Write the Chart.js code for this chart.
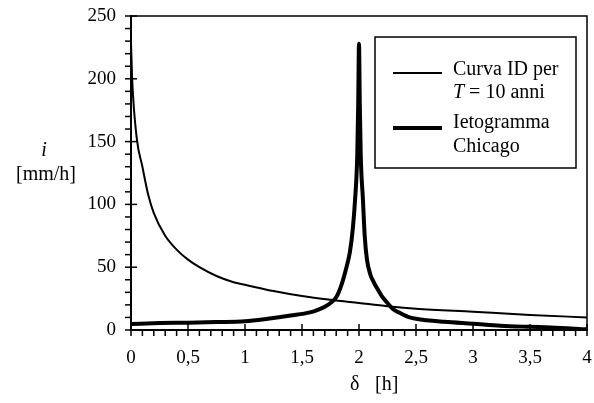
<!DOCTYPE html>
<html>
<head>
<meta charset="utf-8">
<script src="https://cdn.jsdelivr.net/npm/chart.js@4"></script>
<style>
  body { margin: 0; background: #fff; }
  #wrap { width: 594px; height: 403px; }
</style>
</head>
<body>
<div id="wrap"><canvas id="chart" width="594" height="403"></canvas></div>
<script>
// curva IDF (T = 10 anni)
const idfDur = [0, 0.01, 0.05, 0.1, 0.15, 0.2, 0.3, 0.4, 0.5, 0.6, 0.75, 0.9, 1.0, 1.25, 1.5, 1.75, 2.0, 2.25, 2.5, 3.0, 3.5, 4.0];
const idfInt = [229, 200, 153, 130, 108, 93, 75, 64, 56, 50, 43, 38, 36, 31, 27, 24, 21.5, 19, 17, 14.5, 12, 10];

// ietogramma Chicago
const chiDur = [0, 0.25, 0.5, 0.75, 1.0, 1.2, 1.4, 1.57, 1.65, 1.7, 1.75, 1.8, 1.85, 1.89, 1.92, 1.945, 1.965, 1.985, 1.993, 2.0,
                2.007, 2.015, 2.035, 2.05, 2.07, 2.1, 2.13, 2.16, 2.2, 2.25, 2.3, 2.36, 2.43, 2.5, 2.75, 3.0, 3.24, 3.5, 3.68, 4];
const chiInt = [4.8, 5.5, 5.8, 6.3, 7, 9, 11.5, 14, 16.5, 18.5, 21.5, 26, 37, 50, 62, 80, 103, 140, 180, 228,
                180, 140, 103, 75, 56, 44, 38, 33, 27, 21.5, 16.5, 13.5, 10.5, 9, 6.5, 5, 3.4, 2.5, 2, 0.5];

const legendLabels = [["Curva ID per", "T = 10 anni"], ["Ietogramma", "Chicago"]];
const xLabelStep = 0.5;
const yLabelStep = 50;

const serif = '"Liberation Serif", "DejaVu Serif", serif';

function toPoints(xs, ys) {
  return xs.map((x, k) => ({ x: x, y: ys[k] }));
}

// tacche principali e secondarie + riquadro, titoli assi, legenda
const decorPlugin = {
  id: 'decor',
  afterDraw(chart) {
    const ctx = chart.ctx;
    const xs = chart.scales.x, ys = chart.scales.y;
    const a = chart.chartArea;
    ctx.save();
    ctx.strokeStyle = '#000';
    ctx.fillStyle = '#000';

    // top + right frame
    ctx.lineWidth = 1.5;
    ctx.beginPath();
    ctx.moveTo(a.left, a.top);
    ctx.lineTo(a.right, a.top);
    ctx.lineTo(a.right, a.bottom);
    ctx.stroke();

    // x ticks
    ctx.lineWidth = 1.5;
    for (let k = 0; k <= 40; k++) {
      const px = xs.getPixelForValue(k / 10);
      const major = k % 5 === 0;
      ctx.beginPath();
      ctx.moveTo(px, major ? a.bottom - 6 : a.bottom);
      ctx.lineTo(px, a.bottom + 6);
      ctx.stroke();
    }
    // y ticks
    for (let k = 0; k <= 25; k++) {
      const py = ys.getPixelForValue(k * 10);
      const major = k % 5 === 0;
      ctx.beginPath();
      ctx.moveTo(a.left - 6, py);
      ctx.lineTo(major ? a.left + 6 : a.left, py);
      ctx.stroke();
    }

    // axis titles
    ctx.textBaseline = 'alphabetic';
    ctx.textAlign = 'center';
    ctx.font = 'italic 20px ' + serif;
    ctx.fillText('i', 44, 156);
    ctx.font = '20px ' + serif;
    ctx.fillText('[mm/h]', 46, 180);
    ctx.textAlign = 'left';
    ctx.fillText('\u03b4', 350, 390);
    ctx.fillText('[h]', 375, 390);

    // legend
    ctx.lineWidth = 1.5;
    ctx.strokeRect(375, 37, 201, 131);
    ctx.lineWidth = 2;
    ctx.beginPath(); ctx.moveTo(393, 73); ctx.lineTo(442, 73); ctx.stroke();
    ctx.lineWidth = 4;
    ctx.beginPath(); ctx.moveTo(393, 128); ctx.lineTo(442, 128); ctx.stroke();

    ctx.font = '20px ' + serif;
    ctx.fillText(legendLabels[0][0], 453, 75);
    // "T = 10 anni" with italic T
    const l2 = legendLabels[0][1];
    ctx.font = 'italic 20px ' + serif;
    ctx.fillText(l2.charAt(0), 453, 98);
    const w = ctx.measureText(l2.charAt(0)).width;
    ctx.font = '20px ' + serif;
    ctx.fillText(l2.slice(1), 453 + w, 98);
    ctx.fillText(legendLabels[1][0], 453, 128);
    ctx.fillText(legendLabels[1][1], 453, 152);
    ctx.restore();
  }
};

new Chart(document.getElementById('chart'), {
  type: 'scatter',
  data: {
    datasets: [
      {
        label: 'Curva ID per T = 10 anni',
        data: toPoints(idfDur, idfInt),
        showLine: true,
        borderColor: '#000',
        borderWidth: 2,
        pointRadius: 0,
        cubicInterpolationMode: 'monotone'
      },
      {
        label: 'Ietogramma Chicago',
        data: toPoints(chiDur, chiInt),
        showLine: true,
        borderColor: '#000',
        borderWidth: 4,
        pointRadius: 0,
        cubicInterpolationMode: 'monotone'
      }
    ]
  },
  options: {
    responsive: false,
    animation: false,
    devicePixelRatio: 1,
    layout: { padding: { top: 16, right: 7, left: 0, bottom: 0 } },
    plugins: {
      legend: { display: false },
      tooltip: { enabled: false }
    },
    scales: {
      x: {
        type: 'linear',
        min: 0,
        max: 4,
        grid: { display: false },
        border: { display: true, color: '#000', width: 2 },
        ticks: {
          stepSize: xLabelStep,
          color: '#000',
          padding: 9,
          maxRotation: 0,
          font: { family: serif, size: 19 },
          callback: v => String(v).replace('.', ',')
        },
        afterFit(scale) {
          scale.height = 73;
          scale.paddingLeft = 0; scale.paddingRight = 0;
        }
      },
      y: {
        min: 0,
        max: 250,
        grid: { display: false },
        border: { display: true, color: '#000', width: 2 },
        ticks: {
          stepSize: yLabelStep,
          color: '#000',
          padding: 7,
          font: { family: serif, size: 19 }
        },
        afterFit(scale) {
          scale.width = 131;
          scale.paddingTop = 0; scale.paddingBottom = 0;
        }
      }
    }
  },
  plugins: [decorPlugin]
});
</script>
</body>
</html>
